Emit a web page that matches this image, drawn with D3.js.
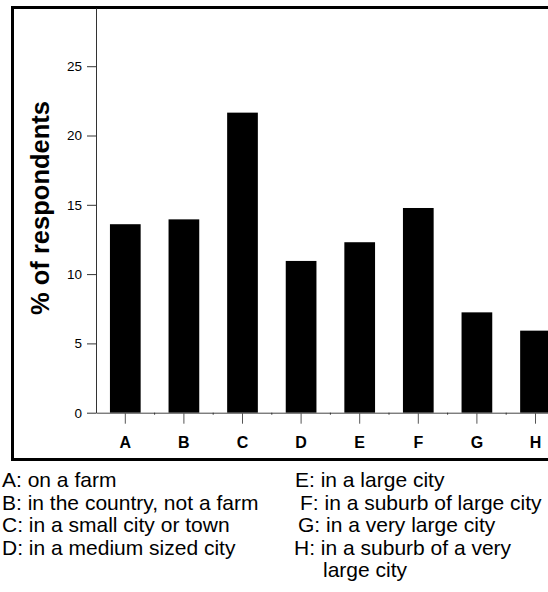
<!DOCTYPE html>
<html><head><meta charset="utf-8">
<script src="https://cdn.jsdelivr.net/npm/d3@7"></script>
<style>body{margin:0;background:#fff}svg{display:block}</style>
</head><body>
<script>
const categories = ["A","B","C","D","E","F","G","H"];
const values = [13.6, 13.95, 21.65, 10.95, 12.3, 14.77, 7.24, 5.92];
const yTicks = [0, 5, 10, 15, 20, 25];
const yTitle = "% of respondents";
const legendLeft = ["A: on a farm","B: in the country, not a farm","C: in a small city or town","D: in a medium sized city"];
const legendRight = ["E: in a large city","F: in a suburb of large city","G: in a very large city","H: in a suburb of a very","large city"];

const W = 548, H = 592;
const svg = d3.select("body").append("svg").attr("width", W).attr("height", H);
const font = "Arial, 'Liberation Sans', Helvetica, sans-serif";

// frame
svg.append("rect").attr("x", 12.5).attr("y", 7.5).attr("width", 600).attr("height", 452)
  .attr("fill", "none").attr("stroke", "#000").attr("stroke-width", 3);

const x0 = 96, x1 = 96 + 58.6 * 8;
const y0 = 412.7, yTop = 8;
const x = d3.scaleBand().domain(categories).range([x0, x1]).paddingInner(0.476).paddingOuter(0.238);
const y = d3.scaleLinear().domain([0, 29.2]).range([y0, yTop]);

// bars
svg.append("g").selectAll("rect").data(values).join("rect")
  .attr("x", (d, i) => x(categories[i]))
  .attr("width", x.bandwidth())
  .attr("y", d => y(d))
  .attr("height", d => y(0) - y(d))
  .attr("fill", "#000");

// y axis
const ya = svg.append("g").attr("transform", `translate(${x0},0)`)
  .call(d3.axisLeft(y).tickValues(yTicks).tickSize(9).tickPadding(5).tickSizeOuter(0));
ya.select(".domain").attr("stroke", "#333");
ya.selectAll(".tick line").attr("stroke", "#333");
ya.selectAll(".tick text").attr("font-family", font).attr("font-size", 13.5).attr("fill", "#000");

// x axis
const xa = svg.append("g").attr("transform", `translate(0,${y0})`)
  .call(d3.axisBottom(x).tickSize(11).tickSizeOuter(0).tickPadding(13));
xa.select(".domain").attr("stroke", "#444");
xa.selectAll(".tick line").attr("stroke", "#555");
xa.selectAll(".tick text").attr("font-family", font).attr("font-size", 16)
  .attr("font-weight", "bold").attr("fill", "#000");

// minor boundary ticks between categories
svg.append("g").selectAll("line").data(categories.slice(1)).join("line")
  .attr("x1", d => x(d) - x.step() * x.paddingInner() / 2)
  .attr("x2", d => x(d) - x.step() * x.paddingInner() / 2)
  .attr("y1", y0).attr("y2", y0 + 2).attr("stroke", "#333");

// y title
svg.append("text").attr("transform", `translate(49,208) rotate(-90)`)
  .attr("text-anchor", "middle").attr("font-family", font).attr("font-size", 25.5)
  .attr("font-weight", "bold").text(yTitle);

// legend
const lg = svg.append("g").attr("font-family", font).attr("font-size", 21).attr("fill", "#000");
const baseY = [487, 509.5, 532, 554.5, 577];
lg.selectAll("text.l").data(legendLeft).join("text").attr("class", "l")
  .attr("x", 2).attr("y", (d, i) => baseY[i]).text(d => d);
const rightX = [295, 300, 298, 294, 323];
lg.selectAll("text.r").data(legendRight).join("text").attr("class", "r")
  .attr("x", (d, i) => rightX[i]).attr("y", (d, i) => baseY[i]).text(d => d);
</script>
</body></html>
